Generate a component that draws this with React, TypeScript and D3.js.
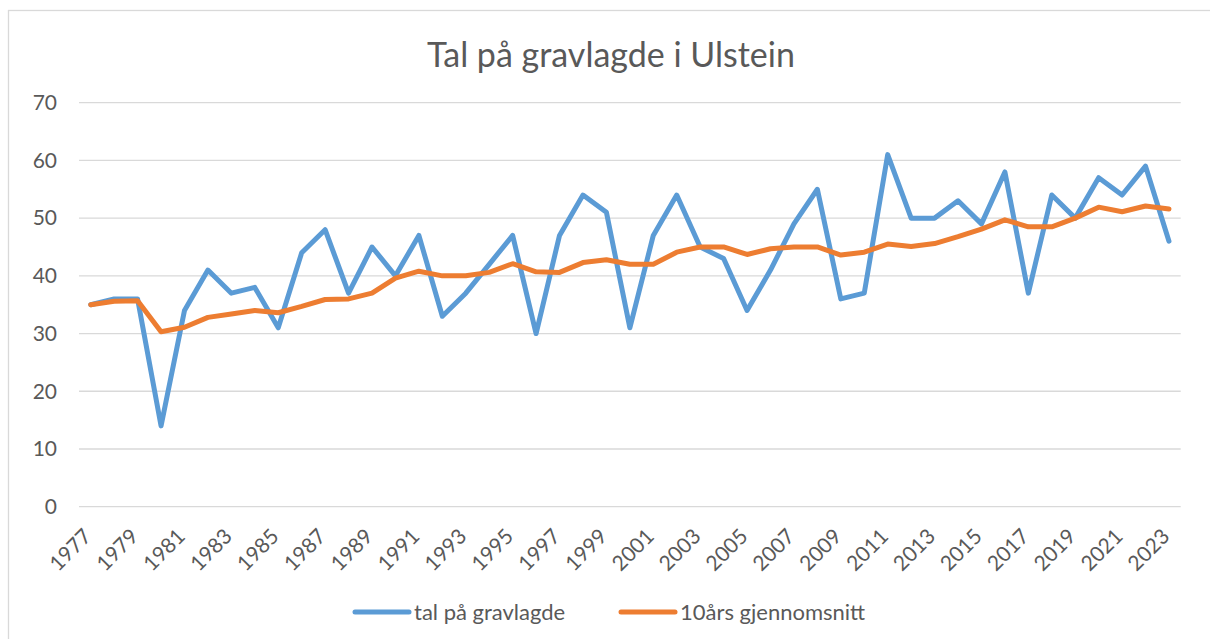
import React, { useEffect, useRef } from "react";
import * as d3 from "d3";

const years: number[] = [
  1977, 1978, 1979, 1980, 1981, 1982, 1983, 1984, 1985, 1986, 1987, 1988, 1989, 1990, 1991, 1992,
  1993, 1994, 1995, 1996, 1997, 1998, 1999, 2000, 2001, 2002, 2003, 2004, 2005, 2006, 2007,
  2008, 2009, 2010, 2011, 2012, 2013, 2014, 2015, 2016, 2017, 2018, 2019, 2020, 2021, 2022, 2023,
];

const gravlagde: number[] = [
  35, 36, 36, 14, 34, 41, 37, 38, 31, 44, 48, 37, 45, 40, 47, 33,
  37, 42, 47, 30, 47, 54, 51, 31, 47, 54, 45, 43, 34, 41, 49,
  55, 36, 37, 61, 50, 50, 53, 49, 58, 37, 54, 50, 57, 54, 59, 46,
];

const snitt10: number[] = [
  35.0, 35.6, 35.7, 30.3, 31.1, 32.8, 33.4, 34.0, 33.6, 34.7, 35.9, 36.0, 37.0, 39.6, 40.8, 40.0,
  40.0, 40.6, 42.1, 40.7, 40.6, 42.3, 42.8, 42.0, 42.0, 44.1, 45.0, 45.0, 43.7, 44.7, 45.0,
  45.0, 43.6, 44.1, 45.5, 45.1, 45.6, 46.8, 48.1, 49.7, 48.5, 48.5, 50.0, 51.9, 51.1, 52.1, 51.6,
];

const yTicks: number[] = [0, 10, 20, 30, 40, 50, 60, 70];
const title = "Tal på gravlagde i Ulstein";
const seriesNames: string[] = ["tal på gravlagde", "10års gjennomsnitt"];
const seriesColors: string[] = ["#5B9BD5", "#ED7D31"];

const W = 1210;
const H = 639;
const FONT = "Lato, 'Open Sans', sans-serif";

export default function App() {
  const ref = useRef<SVGSVGElement>(null);

  useEffect(() => {
    const svg = d3.select(ref.current);
    svg.selectAll("*").remove();

    const left = 79, right = 1180.7, top = 102.7, bottom = 506.7;

    const x = d3.scaleBand<number>().domain(years).range([left, right]).padding(0);
    const cx = (yr: number) => (x(yr) as number) + x.bandwidth() / 2;
    const y = d3.scaleLinear().domain([0, 70]).range([bottom, top]);

    // chart border
    svg.append("rect")
      .attr("x", 8.5).attr("y", 10.5).attr("width", W).attr("height", H)
      .attr("fill", "#fff").attr("stroke", "#D9D9D9").attr("stroke-width", 1.3);

    // title
    svg.append("text")
      .attr("x", 611).attr("y", 67)
      .attr("text-anchor", "middle")
      .attr("font-family", FONT).attr("font-size", 34)
      .attr("fill", "#595959")
      .text(title);

    // gridlines
    svg.append("g").selectAll("line").data(yTicks).join("line")
      .attr("x1", left).attr("x2", right)
      .attr("y1", (d) => y(d)).attr("y2", (d) => y(d))
      .attr("stroke", "#D9D9D9").attr("stroke-width", 1.3);

    // y labels
    svg.append("g").selectAll("text").data(yTicks).join("text")
      .attr("x", 57).attr("y", (d) => y(d))
      .attr("dy", "0.35em")
      .attr("text-anchor", "end")
      .attr("font-family", FONT).attr("font-size", 21)
      .attr("fill", "#595959")
      .text((d) => String(d));

    // x labels (every other year)
    const shown = years.filter((_, i) => i % 2 === 0);
    svg.append("g").selectAll("text").data(shown).join("text")
      .attr("transform", (d) => `translate(${cx(d) + 2},${bottom + 31}) rotate(-45)`)
      .attr("text-anchor", "end")
      .attr("font-family", FONT).attr("font-size", 21)
      .attr("fill", "#595959")
      .text((d) => String(d));

    const line = d3.line<number>()
      .x((_, i) => cx(years[i]))
      .y((d) => y(d));

    [gravlagde, snitt10].forEach((s, k) => {
      svg.append("path")
        .datum(s)
        .attr("d", line)
        .attr("fill", "none")
        .attr("stroke", seriesColors[k])
        .attr("stroke-width", 5)
        .attr("stroke-linejoin", "round")
        .attr("stroke-linecap", "round");
    });

    // legend
    const legendX = [355, 621];
    seriesNames.forEach((name, k) => {
      const g = svg.append("g");
      g.append("line")
        .attr("x1", legendX[k]).attr("x2", legendX[k] + 54)
        .attr("y1", 612).attr("y2", 612)
        .attr("stroke", seriesColors[k]).attr("stroke-width", 5)
        .attr("stroke-linecap", "round");
      g.append("text")
        .attr("x", legendX[k] + 59).attr("y", 612)
        .attr("dy", "0.35em")
        .attr("font-family", FONT).attr("font-size", 22)
        .attr("fill", "#595959")
        .text(name);
    });
  }, []);

  return (
    <svg
      ref={ref}
      width={W}
      height={H}
      style={{ position: "absolute", left: 0, top: 0, background: "#fff" }}
    />
  );
}
